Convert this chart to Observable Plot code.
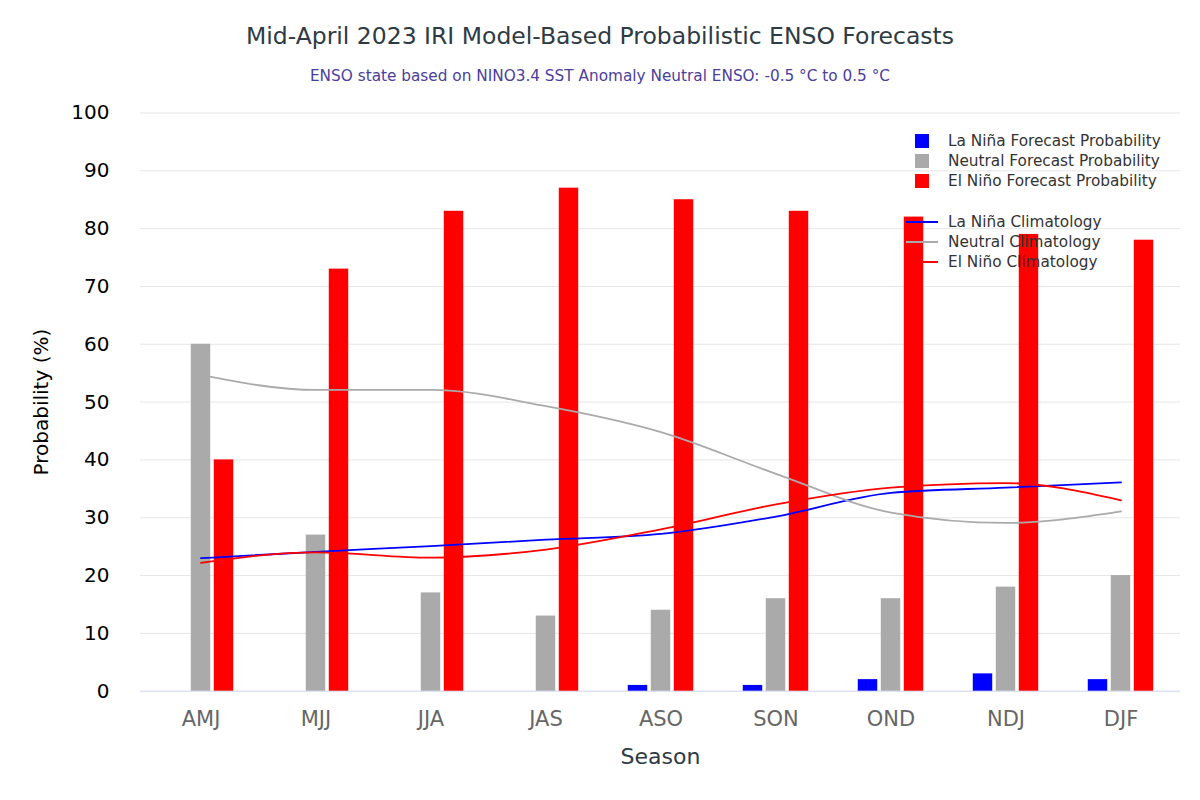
<!DOCTYPE html>
<html>
<head>
<meta charset="utf-8">
<script src="https://cdn.jsdelivr.net/npm/d3@7"></script>
<script src="https://cdn.jsdelivr.net/npm/@observablehq/plot@0.6"></script>
<style>
  body { margin: 0; background: #fff; font-family: "DejaVu Sans", sans-serif; }
  #wrap { position: relative; width: 1200px; height: 800px; overflow: hidden; }
  #head { position: relative; height: 95px; }
  #title { position: absolute; top: 22px; left: 0; width: 1200px; text-align: center; font-size: 23.5px; color: #2e3b44; white-space: nowrap; }
  #subtitle { position: absolute; top: 67px; left: 0; width: 1200px; text-align: center; font-size: 15.3px; color: #4b3e9c; white-space: nowrap; }
  .lg { position: absolute; height: 20px; line-height: 20px; font-size: 15.3px; color: #333; white-space: nowrap; }
  .sw { position: absolute; }
  g[aria-label="x-axis tick label"] text { fill: #666; }
  g[aria-label="x-axis label"] text { fill: #2e3b44; font-size: 22px; }
  g[aria-label="y-axis tick label"] text { fill: #000; }
  g[aria-label="y-axis label"] text { fill: #000; font-size: 20px; }
</style>
</head>
<body>
<div id="wrap">
  <div id="head">
    <div id="title">Mid-April 2023 IRI Model-Based Probabilistic ENSO Forecasts</div>
    <div id="subtitle">ENSO state based on NINO3.4 SST Anomaly Neutral ENSO: -0.5 °C to 0.5 °C</div>
  </div>
  <div id="chart"></div>
  <div id="legend"></div>
</div>
<script>
// ---- data ----
const seasons = ["AMJ", "MJJ", "JJA", "JAS", "ASO", "SON", "OND", "NDJ", "DJF"];
const laNinaProb  = [0, 0, 0, 0, 1, 1, 2, 3, 2];
const neutralProb = [60, 27, 17, 13, 14, 16, 16, 18, 20];
const elNinoProb  = [40, 73, 83, 87, 85, 83, 82, 79, 78];
const laNinaClim  = [23.0, 24.1, 25.1, 26.2, 27.2, 30.2, 34.3, 35.2, 36.1];
const neutralClim = [54.7, 52.1, 52.1, 49.3, 44.8, 37.6, 30.9, 29.1, 31.1];
const elNinoClim  = [22.2, 24.0, 23.1, 24.5, 28.0, 32.3, 35.2, 36.0, 33.0];
const yTicks = [0, 10, 20, 30, 40, 50, 60, 70, 80, 90, 100];
const barLabels  = ["La Niña Forecast Probability", "Neutral Forecast Probability", "El Niño Forecast Probability"];
const lineLabels = ["La Niña Climatology", "Neutral Climatology", "El Niño Climatology"];
const colors = ["#0000ff", "#aaaaaa", "#ff0000"];

// ---- layout ----
const W = 1200, H = 705;
const mL = 140, mR = 20, mT = 17.5, mB = 109.3;
const bw = (W - mL - mR) / seasons.length;
const barW = 20, barStep = 23;

const probSeries = [laNinaProb, neutralProb, elNinoProb];
const climSeries = [laNinaClim, neutralClim, elNinoClim];

const barMarks = probSeries.map((vals, k) => {
  const rows = seasons.map((s, i) => ({season: s, value: vals[i]}));
  const left = bw / 2 + (k - 1) * barStep - barW / 2;
  return Plot.barY(rows, {x: "season", y: "value", fill: colors[k], insetLeft: left, insetRight: bw - left - barW});
});
const lineMarks = climSeries.map((vals, k) => {
  const rows = seasons.map((s, i) => ({season: s, value: vals[i]}));
  return Plot.line(rows, {x: "season", y: "value", stroke: colors[k], strokeWidth: 1.8, curve: "monotone-x"});
});

const chart = Plot.plot({
  width: W, height: H,
  marginLeft: mL, marginRight: mR, marginTop: mT, marginBottom: mB,
  style: {fontFamily: "DejaVu Sans, sans-serif", fontSize: "20px", background: "#fff"},
  x: {type: "band", domain: seasons, padding: 0},
  y: {domain: [0, 100]},
  marks: [
    Plot.ruleY(yTicks.filter(d => d > 0), {stroke: "#e6e6e6", strokeWidth: 1}),
    Plot.ruleY([0], {stroke: "#ccd6eb", strokeWidth: 1}),
    ...barMarks,
    ...lineMarks,
    Plot.axisX({tickSize: 0, tickPadding: 20, fontSize: 21, label: "Season", labelArrow: "none", labelAnchor: "center", labelOffset: 73}),
    Plot.axisY({ticks: yTicks, tickSize: 0, tickPadding: 31, fontSize: 20, label: "Probability (%)", labelArrow: "none", labelAnchor: "center", labelOffset: 107})
  ]
});
document.getElementById("chart").appendChild(chart);

// ---- legend (overlaid, top right) ----
const lg = document.getElementById("legend");
const add = (html) => lg.insertAdjacentHTML("beforeend", html);
barLabels.forEach((t, k) => {
  const yc = 141 + 20 * k;
  add(`<div class="sw" style="left:915px;top:${yc - 7}px;width:14px;height:14px;background:${colors[k]}"></div>`);
  add(`<div class="lg" style="left:948px;top:${yc - 10}px">${t}</div>`);
});
lineLabels.forEach((t, k) => {
  const yc = 221.5 + 20 * k;
  add(`<div class="sw" style="left:906px;top:${yc - 1}px;width:32px;height:2px;background:${colors[k]}"></div>`);
  add(`<div class="lg" style="left:948px;top:${yc - 10}px">${t}</div>`);
});
</script>
</body>
</html>
